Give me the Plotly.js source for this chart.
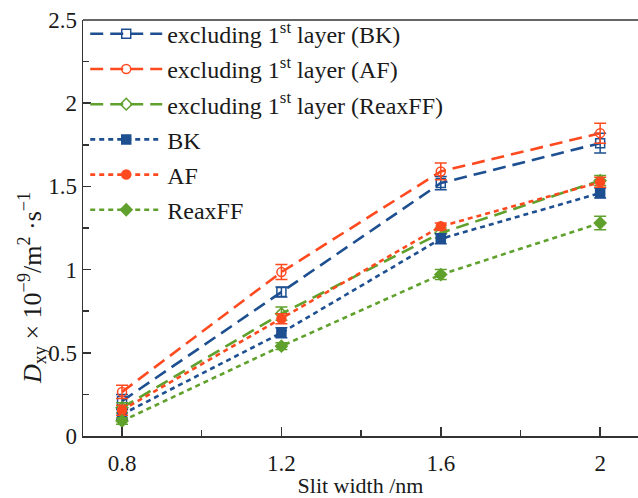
<!DOCTYPE html>
<html>
<head>
<meta charset="utf-8">
<script src="https://cdn.plot.ly/plotly-3.0.1.min.js"></script>
<style>html,body{margin:0;padding:0;background:#fff;}</style>
</head>
<body>
<div id="chart" style="width:638px;height:498px;"></div>
<script>
const slitWidth = [0.8, 1.2, 1.6, 2.0];
const xTickLabels = ['0.8', '1.2', '1.6', '2'];

const exclBK = [0.21, 0.865, 1.52, 1.76];
const exclBKErr = [0.04, 0.03, 0.04, 0.06];
const exclAF = [0.265, 0.985, 1.59, 1.82];
const exclAFErr = [0.04, 0.045, 0.05, 0.06];
const exclReax = [0.17, 0.735, 1.22, 1.535];
const exclReaxErr = [0.03, 0.04, 0.03, 0.03];
const BK = [0.13, 0.62, 1.185, 1.46];
const BKErr = [0.03, 0.03, 0.03, 0.03];
const AF = [0.155, 0.705, 1.26, 1.525];
const AFErr = [0.03, 0.03, 0.02, 0.03];
const Reax = [0.09, 0.54, 0.97, 1.28];
const ReaxErr = [0.02, 0.02, 0.03, 0.04];

const names = [
  'excluding 1<sup>st</sup> layer (BK)',
  'excluding 1<sup>st</sup> layer (AF)',
  'excluding 1<sup>st</sup> layer (ReaxFF)',
  'BK', 'AF', 'ReaxFF'
];

const blue = '#1d4f91', red = '#ff4a1f', green = '#5fa12c';

function tr(y, err, name, color, symbol, dash, group) {
  return {
    x: slitWidth, y: y, name: name, type: 'scatter', mode: 'lines+markers',
    legendgroup: group,
    line: {color: color, width: 2.6, dash: dash},
    marker: {symbol: symbol, size: 9, color: color, line: {color: color, width: 1.5}},
    error_y: {type: 'data', array: err, visible: true, color: color, thickness: 1.5, width: 6}
  };
}

const longDash = '13px,7px';
const shortDash = '5px,4px';

const data = [
  tr(exclBK, exclBKErr, names[0], blue, 'square-open', longDash, 'g1'),
  tr(exclAF, exclAFErr, names[1], red, 'circle-open', longDash, 'g2'),
  tr(exclReax, exclReaxErr, names[2], green, 'diamond-open', longDash, 'g3'),
  tr(BK, BKErr, names[3], blue, 'square', shortDash, 'g4'),
  tr(AF, AFErr, names[4], red, 'circle', shortDash, 'g5'),
  tr(Reax, ReaxErr, names[5], green, 'diamond', shortDash, 'g6')
];

const font = "'Liberation Serif', 'Times New Roman', serif";
const txt = '#1a1a1a';

const layout = {
  width: 638, height: 498,
  margin: {l: 83, r: 0, t: 20, b: 62},
  paper_bgcolor: '#fff', plot_bgcolor: '#fff',
  font: {family: font, color: txt, size: 22},
  showlegend: true,
  legend: {
    x: 0.004, y: 1.02, xanchor: 'left', yanchor: 'top',
    font: {family: font, size: 24, color: txt},
    itemwidth: 72,
    bgcolor: 'rgba(0,0,0,0)', traceorder: 'grouped', tracegroupgap: 1
  },
  xaxis: {
    range: [0.702, 2.095],
    tickvals: slitWidth, ticktext: xTickLabels,
    ticks: 'inside', ticklen: 9, tickwidth: 1.5, tickcolor: '#333',
    minor: {dtick: 0.2, tick0: 0.8, ticks: 'inside', ticklen: 6, tickwidth: 1.5, tickcolor: '#333'},
    showline: true, linecolor: '#333', linewidth: 1.5,
    showgrid: false, zeroline: false,
    ticklabelstandoff: 6,
    tickfont: {family: font, size: 23, color: txt},
    title: {text: 'Slit width /nm', font: {family: font, size: 22, color: txt}, standoff: 2}
  },
  yaxis: {
    range: [0, 2.5], dtick: 0.5, tick0: 0,
    ticks: 'inside', ticklen: 8, tickwidth: 1.5, tickcolor: '#333',
    minor: {dtick: 0.25, ticks: 'inside', ticklen: 6, tickwidth: 1.5, tickcolor: '#333'},
    showline: true, linecolor: '#333', linewidth: 1.5,
    showgrid: false, zeroline: false,
    tickfont: {family: font, size: 23, color: txt}
  },
  annotations: [{
    text: '<i>D</i><sub>xy</sub> × 10<sup>−9</sup>/m<sup>2</sup> ·s<sup>−1</sup>',
    xref: 'paper', yref: 'paper', x: -0.092, y: 0.12,
    xanchor: 'center', yanchor: 'bottom', textangle: -90, showarrow: false,
    font: {family: font, size: 26, color: txt}
  }],
  shapes: [{type: 'line', xref: 'paper', yref: 'paper', x0: 0, x1: 1, y0: 1, y1: 1, line: {color: '#333', width: 1.5}}]
};

Plotly.newPlot('chart', data, layout, {displayModeBar: false, staticPlot: true});
</script>
</body>
</html>
